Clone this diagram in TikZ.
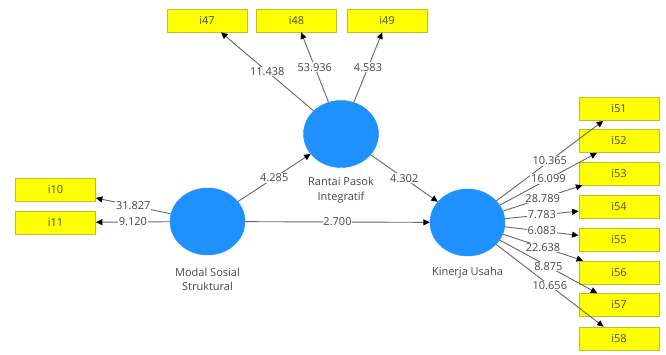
\documentclass[tikz,border=0pt]{standalone}
\usepackage{fontspec}
\setmainfont{Open Sans}
\usetikzlibrary{shapes.geometric,arrows.meta}
\definecolor{plsblue}{RGB}{30,144,255}
\definecolor{plsyellow}{RGB}{255,255,0}
\definecolor{plsedge}{RGB}{190,190,40}
\begin{document}
\begin{tikzpicture}[x=1pt,y=-1pt,
  lv/.style={ellipse,fill=plsblue,draw=plsblue,minimum width=75pt,minimum height=67pt,inner sep=0pt},
  ind/.style={rectangle,fill=plsyellow,draw=plsedge,line width=0.7pt,minimum width=80pt,minimum height=23pt,inner sep=0pt,font=\fontsize{11}{12}\selectfont,text=black!70},
  conn/.style={draw=black!60,line width=0.9pt,-{Triangle[length=6.5pt,width=6pt,color=black]}},
  val/.style={fill=white,inner sep=0.8pt,font=\fontsize{11}{12}\selectfont,text=black!72},
  lvlabel/.style={align=center,font=\fontsize{11}{14.5}\selectfont,text=black!72,inner sep=0pt}
]
\useasboundingbox (0,0) rectangle (666,354);
% latent variables
\node[lv] (rp) at (341,134) {};
\node[lv] (ms) at (207.5,221.5) {};
\node[lv] (ku) at (467.5,222.5) {};
\node[lvlabel] (rpl) at (341,190) {Rantai Pasok\\Integratif};
\node[lvlabel] (msl) at (207.5,279.5) {Modal Sosial\\Struktural};
\node[lvlabel] (kul) at (467.5,273) {Kinerja Usaha};
% indicators
\node[ind] (i47) at (207,20.5) {i47};
\node[ind] (i48) at (296.5,20.5) {i48};
\node[ind] (i49) at (387,20.5) {i49};
\node[ind] (i10) at (55.5,189.5) {i10};
\node[ind] (i11) at (55.5,222.5) {i11};
\node[ind] (i51) at (619,109) {i51};
\node[ind] (i52) at (619,141) {i52};
\node[ind] (i53) at (619,173.5) {i53};
\node[ind] (i54) at (619,207) {i54};
\node[ind] (i55) at (619,240) {i55};
\node[ind] (i56) at (619,272.5) {i56};
\node[ind] (i57) at (619,305) {i57};
\node[ind] (i58) at (619,338.5) {i58};
% outer loadings
\draw[conn] (rp) -- node[val] {11.438} (i47);
\draw[conn] (rp) -- node[val] {53.936} (i48);
\draw[conn] (rp) -- node[val] {4.583} (i49);
\draw[conn] (ms) -- node[val] {31.827} (i10);
\draw[conn] (ms) -- node[val] {9.120} (i11);
\draw[conn] (ku) -- node[val] {10.365} (i51);
\draw[conn] (ku) -- node[val] {16.099} (i52);
\draw[conn] (ku) -- node[val] {28.789} (i53);
\draw[conn] (ku) -- node[val] {7.783} (i54);
\draw[conn] (ku) -- node[val] {6.083} (i55);
\draw[conn] (ku) -- node[val] {22.638} (i56);
\draw[conn] (ku) -- node[val] {8.875} (i57);
\draw[conn] (ku) -- node[val] {10.656} (i58);
% structural paths
\draw[conn] (ms) -- node[val] {4.285} (rp);
\draw[conn] (rp) -- node[val] {4.302} (ku);
\draw[conn] (ms) -- node[val] {2.700} (ku);
\end{tikzpicture}
\end{document}
